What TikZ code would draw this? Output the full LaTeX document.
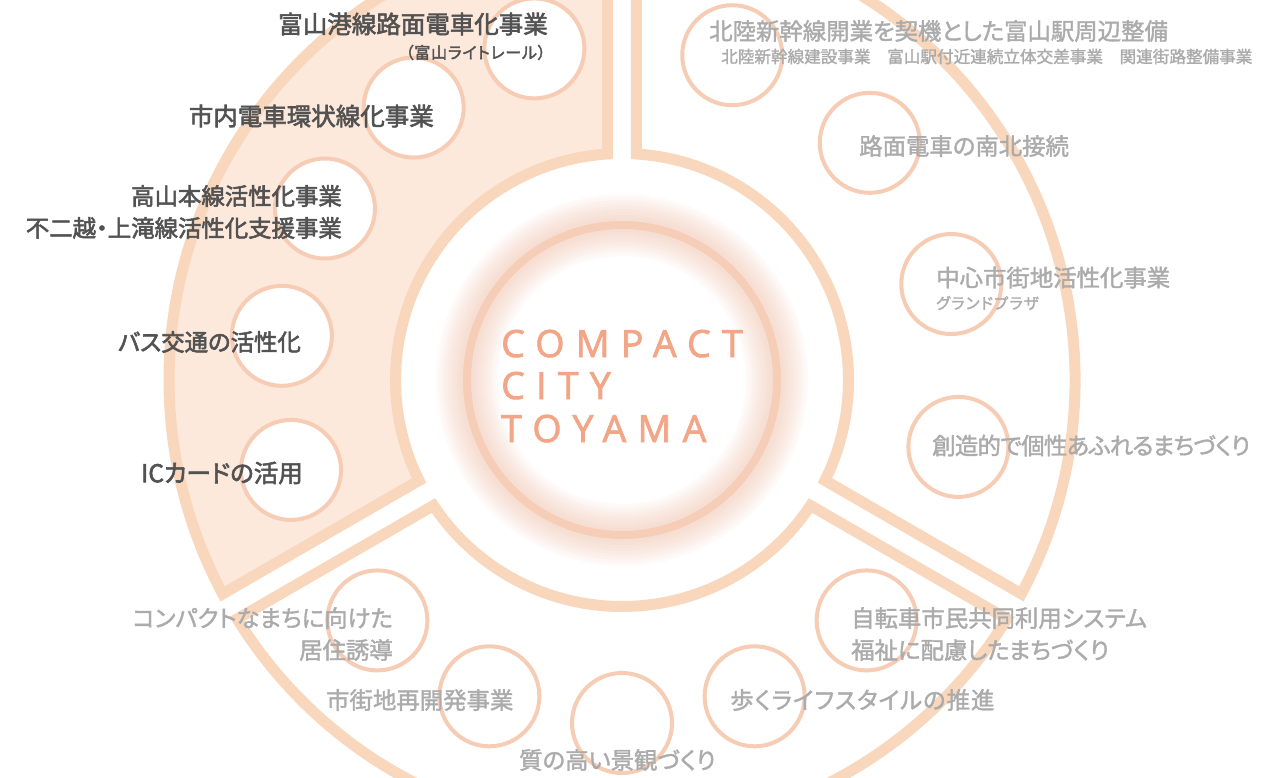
\documentclass[tikz,border=0pt]{standalone}
\usepackage{fontspec}
\newfontfamily\jpm{Noto Sans CJK JP}[RawFeature=+palt, FakeBold=1.6]
\newfontfamily\jpb{Noto Sans CJK JP}[RawFeature=+palt, FakeBold=2.4]
\newfontfamily\cct{Open Sans}[LetterSpace=30, FakeBold=2]
\definecolor{ringc}{HTML}{F9D7BD}
\definecolor{fillL}{HTML}{FDE8DC}
\definecolor{circc}{HTML}{F7CCB4}
\definecolor{cring}{HTML}{F6CDB7}
\definecolor{glowc}{HTML}{F3B596}
\definecolor{cctxt}{HTML}{F2A687}
\definecolor{darktxt}{HTML}{525252}
\definecolor{graytxt}{HTML}{ABABAB}
\begin{document}
\begin{tikzpicture}[x=1pt,y=-1pt,
  sect/.style={draw=ringc, line width=11pt, line join=miter},
  dot/.style={circle, draw=circc, fill=white, line width=4pt, minimum size=100pt, inner sep=0},
  lblL/.style={font=\jpb\fontsize{24.5}{30}\selectfont, text=darktxt, inner sep=0},
  lblLs/.style={font=\jpb\fontsize{23.4}{30}\selectfont, text=darktxt, inner sep=0},
  lblR/.style={font=\jpm\fontsize{23.4}{28}\selectfont, text=graytxt, inner sep=0},
  smL/.style={font=\jpb\fontsize{16}{18}\selectfont\addfontfeature{LetterSpace=5}, text=darktxt, inner sep=0},
  smR/.style={font=\jpm\fontsize{16.6}{18}\selectfont, text=graytxt, inner sep=0},
  cc/.style={font=\cct\fontsize{37.5}{42}\selectfont, text=cctxt, inner sep=0, anchor=base west}]
\useasboundingbox (0,0) rectangle (1288,777);
\fill[white] (0,0) rectangle (1288,777);
\clip (0,0) rectangle (1288,777);
\coordinate (c) at (622,380);
\begin{scope}[shift={(622,380)}, yscale=-1]
  % sectors
  \draw[sect, fill=fillL] (91.83:453) arc[start angle=91.83, end angle=208.17, radius=453]
     -- (206.34:226.5) arc[start angle=206.34, end angle=93.66, radius=226.5] -- cycle;
  \draw[sect, fill=white] (-28.17:453) arc[start angle=-28.17, end angle=88.17, radius=453]
     -- (86.34:226.5) arc[start angle=86.34, end angle=-26.34, radius=226.5] -- cycle;
  \draw[sect, fill=white] (211.83:453) arc[start angle=211.83, end angle=328.17, radius=453]
     -- (326.34:226.5) arc[start angle=326.34, end angle=213.66, radius=226.5] -- cycle;
  % small circles
  \foreach \a/\n in {104.8/L1,127.4/L2,150/L3,172.6/L4,195.2/L5,
                     71.25/R1,43.75/R2,16.25/R3,-11.25/R4,
                     224.5/B1,247.25/B2,270/B3,292.75/B4,315.5/B5}
    \node[dot] (c\n) at (\a:343) {};
  % glow and central ring
  \foreach \w in {62,56,50,44,38,32,26,20,14}
    \draw[glowc, draw opacity=0.055, line width=\w pt] (0,0) circle[radius=155];
  \draw[cring, line width=8pt] (0,0) circle[radius=155];
\end{scope}
% central title
\node[cc] (t1) at (501,357) {COMPACT};
\node[cc] (t2) at (501,399) {CITY};
\node[cc] (t3) at (501,442) {TOYAMA};
% left labels
\node[lblL, anchor=east] (l1) at (548,24) {富山港線路面電車化事業};
\node[smL, anchor=east] (l1s) at (546,52.5) {（富山ライトレール）};
\node[lblL, anchor=east] (l2) at (434,116) {市内電車環状線化事業};
\node[lblLs, anchor=east] (l3a) at (342,196) {高山本線活性化事業};
\node[lblLs, anchor=east] (l3b) at (342,228) {不二越・上滝線活性化支援事業};
\node[lblLs, anchor=east] (l4) at (301,342) {バス交通の活性化};
\node[lblL, anchor=east] (l5) at (303,473) {ICカードの活用};
% right labels
\node[lblR, anchor=west] (r1) at (709,31) {北陸新幹線開業を契機とした富山駅周辺整備};
\node[smR, anchor=west] (r1s) at (721,56.5) {北陸新幹線建設事業　富山駅付近連続立体交差事業　関連街路整備事業};
\node[lblR, anchor=west] (r2) at (859,146) {路面電車の南北接続};
\node[lblR, anchor=west] (r3) at (936,277.5) {中心市街地活性化事業};
\node[smR, anchor=west, font=\jpm\fontsize{15.5}{18}\selectfont\addfontfeature{LetterSpace=7}] (r3s) at (936,303) {グランドプラザ};
\node[lblR, anchor=west, font=\jpm\fontsize{23.4}{28}\selectfont\addfontfeature{LetterSpace=-3}] (r4) at (932,445.5) {創造的で個性あふれるまちづくり};
% bottom labels
\node[lblR, anchor=east] (b1a) at (393,618) {コンパクトなまちに向けた};
\node[lblR, anchor=east] (b1b) at (393,650) {居住誘導};
\node[lblR, anchor=west] (b2) at (326,700) {市街地再開発事業};
\node[lblR, anchor=west] (b3) at (519,760) {質の高い景観づくり};
\node[lblR, anchor=west, font=\jpm\fontsize{23.4}{28}\selectfont\addfontfeature{LetterSpace=4.3}] (b4) at (730,700) {歩くライフスタイルの推進};
\node[lblR, anchor=west] (b5a) at (851,618) {自転車市民共同利用システム};
\node[lblR, anchor=west] (b5b) at (851,650) {福祉に配慮したまちづくり};
\end{tikzpicture}
\end{document}
